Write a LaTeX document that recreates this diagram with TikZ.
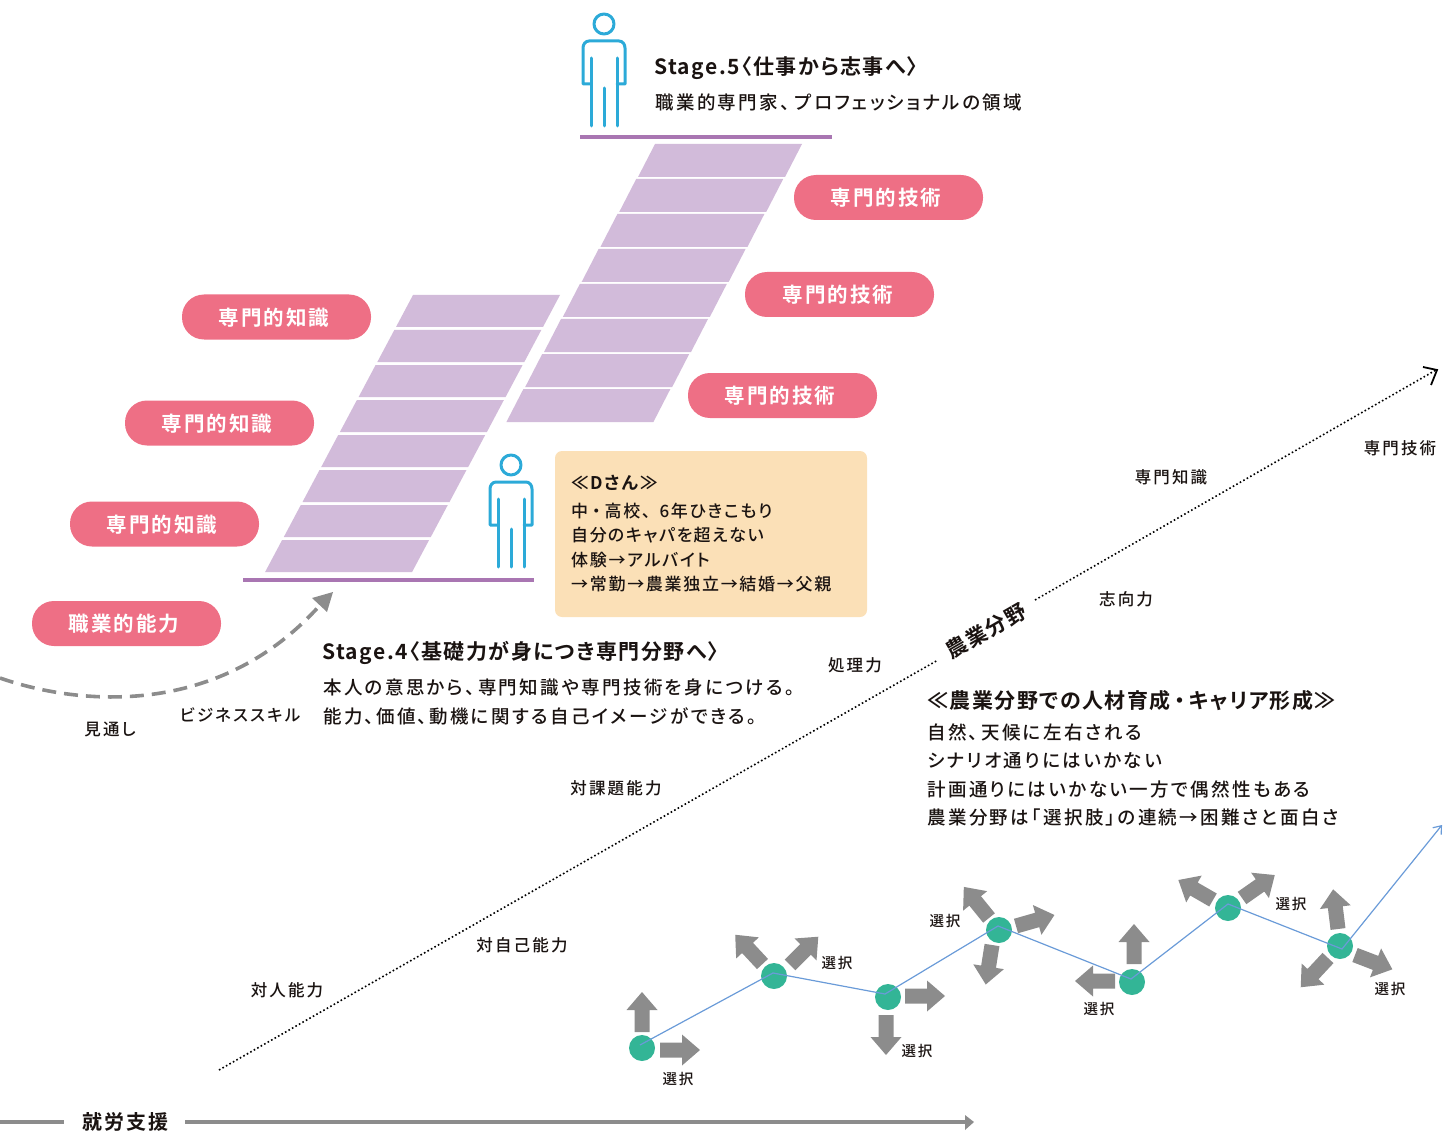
\documentclass[tikz,border=0pt]{standalone}
\usepackage{fontspec}
\usetikzlibrary{arrows.meta,calc}
\newfontfamily\jpr[RawFeature=+palt,LetterSpace=13]{Noto Sans CJK JP Medium}
\newfontfamily\jpbox[RawFeature=+palt,LetterSpace=10]{Noto Sans CJK JP Medium}
\newfontfamily\jpb[RawFeature=+palt,LetterSpace=7]{Noto Sans CJK JP Bold}
\newfontfamily\jpp[RawFeature=+palt,LetterSpace=10]{Noto Sans CJK JP Bold}
\newcommand{\fsz}[1]{\fontsize{#1}{#1}\selectfont}
\newcommand{\md}{\kern4pt・\kern4pt}
\definecolor{stair}{HTML}{D2BBDA}
\definecolor{floorc}{HTML}{A976B2}
\definecolor{pill}{HTML}{EE6F85}
\definecolor{boxc}{HTML}{FBE0B7}
\definecolor{person}{HTML}{2CAAD8}
\definecolor{greyc}{HTML}{8C8C8C}
\definecolor{greenc}{HTML}{33B596}
\definecolor{bluec}{HTML}{6A9BD8}
\definecolor{ink}{HTML}{1A1311}
\tikzset{
  pillbox/.style={fill=pill,text=white,rounded corners=22pt,minimum width=189pt,minimum height=45pt,inner sep=0pt},
  pilltext/.style={inner sep=0pt,text=white,font=\jpp\fsz{20.5}},
  body/.style={anchor=west,inner sep=0pt,text=ink,font=\jpr\fsz{18.5}},
  boxt/.style={anchor=west,inner sep=0pt,text=ink,font=\jpbox\fsz{17}},
  title/.style={anchor=west,inner sep=0pt,text=ink,font=\jpb\fsz{21}},
  lab/.style={inner sep=0pt,text=ink,font=\jpr\fsz{16.5}},
  sel/.style={inner sep=0pt,text=ink,font=\jpr\fsz{14.5}},
  dot/.style={circle,fill=greenc,minimum size=26pt,inner sep=0pt},
  floorline/.style={floorc,line width=3.5pt},
  glines/.style={greyc,line width=4pt},
  figline/.style={person,line width=3pt,line cap=round,line join=round},
  pics/blk/.style={code={\fill[greyc] (0,-7.5)--(22,-7.5)--(22,-15.5)--(40,0)--(22,15.5)--(22,7.5)--(0,7.5)--cycle;}},
  pics/figure/.style={code={
    \draw[figline] (0,-102) circle (10);
    \draw[figline] (-13,-42) -- (-21,-42) -- (-21,-78) to[out=90,in=180] (-15,-85) -- (15,-85) to[out=0,in=90] (21,-78) -- (21,-42) -- (13,-42);
    \draw[figline] (-13,-68) -- (-13,0) (0,-38) -- (0,0) (13,-68) -- (13,0);
  }}
}
\begin{document}
\begin{tikzpicture}[x=1pt,y=-1pt]
\useasboundingbox (0,0) rectangle (1450,1131);
% stairs
\foreach \i in {0,...,7}{
  \pgfmathsetmacro\dx{18.8*\i}
  \pgfmathsetmacro\dy{35*\i}
  \fill[stair] (655-\dx,144+\dy) -- (802-\dx,144+\dy) -- (785-\dx,177+\dy) -- (638-\dx,177+\dy) -- cycle;
  \pgfmathsetmacro\dxb{18.7*\i}
  \fill[stair] (413-\dxb,295+\dy) -- (560-\dxb,295+\dy) -- (543-\dxb,327+\dy) -- (396-\dxb,327+\dy) -- cycle;
}
% floors
\coordinate (f1a) at (580,137); \coordinate (f1b) at (832,137);
\coordinate (f2a) at (243,580); \coordinate (f2b) at (534,580);
\draw[floorline] (f1a) -- (f1b);
\draw[floorline] (f2a) -- (f2b);
% people
\pic at (604,126) {figure};
\pic at (511,567) {figure};
% pills
\node[pillbox] (p1) at (888.5,197.5) {};
\node[pillbox] (p2) at (839.5,294.5) {};
\node[pillbox] (p3) at (782.5,395.5) {};
\node[pillbox] (p4) at (276.5,317) {};
\node[pillbox] (p5) at (219.5,423) {};
\node[pillbox] (p6) at (164.5,524) {};
\node[pillbox] (p7) at (126.5,623.5) {};
\node[pilltext] (t1) at (886,197.5) {専門的技術};
\node[pilltext] (t2) at (838,294.5) {専門的技術};
\node[pilltext] (t3) at (780,396) {専門的技術};
\node[pilltext] (t4) at (274,317.5) {専門的知識};
\node[pilltext] (t5) at (217,423.5) {専門的知識};
\node[pilltext] (t6) at (162,524.5) {専門的知識};
\node[pilltext] (t7) at (124,624) {職業的能力};
% box
\fill[boxc,rounded corners=7pt] (555,451) rectangle (867,617);
\node[boxt,font=\jpp\fsz{17.5}] (d0) at (571,483) {≪Dさん≫};
\node[boxt] (d1) at (571,511.5) {中\md 高校、\kern9pt 6年ひきこもり};
\node[boxt] (d2) at (571,535.5) {自分\kern1pt のキャパを\kern1pt 超えない};
\node[boxt] (d3) at (571,560.5) {体験→アルバイト};
\node[boxt] (d4) at (571,584.5) {→常勤→農業独立→結婚→父親};
% stage texts
\node[title] (s5) at (654,68) {Stage.5〈仕事から志事へ〉};
\node[body] (s5b) at (655,102) {職業的専門家、\kern5pt プロフェッショナルの領域};
\node[title] (s4) at (322,653) {Stage.4〈基礎力が身につき専門分野へ〉};
\node[body] (s4a) at (323,687.5) {本人の意思から、\kern3pt 専門知識や専門技術を身につける。};
\node[body] (s4b) at (323,716.5) {能力、\kern2pt 価値、\kern2pt 動機に関する自己イメージができる。};
\node[title] (n0) at (927,701) {≪農業分野での人材育成\md キャリア形成≫};
\node[body] (n1) at (927,732.5) {自然、\kern3pt 天候に左右される};
\node[body] (n2) at (927,760.5) {シナリオ通りにはいかない};
\node[body] (n3) at (927,789.5) {計画通りにはいかない一方で偶然性もある};
\node[body] (n4) at (927,817.5) {農業分野は「選択肢」の連続→困難さと面白さ};
% dashed curve
\coordinate (c0) at (0,678); \coordinate (c1) at (333,592);
\draw[greyc,line width=3.6pt,dash pattern=on 14pt off 8pt] (c0) .. controls (80,706) and (220,718) .. (321,604);
\fill[greyc] (c1) -- (312,598) -- (327,612) -- cycle;
% labels
\node[lab] (l1) at (110,729) {見通し};
\node[lab] (l2) at (240,715) {ビジネススキル};
\node[lab] (l3) at (287,990) {対人能力};
\node[lab] (l4) at (522,945) {対自己能力};
\node[lab] (l5) at (616,788) {対課題能力};
\node[lab] (l6) at (855,665) {処理力};
\node[lab] (l7) at (1126,599) {志向力};
\node[lab] (l8) at (1171,477) {専門知識};
\node[lab] (l9) at (1400,448) {専門技術};
% main diagonal
\node[title,anchor=center,rotate=30] (agri) at (986,631) {農業分野};
\coordinate (ds) at (219,1070); \coordinate (de) at (1436,370);
\coordinate (dm1) at (938,660); \coordinate (dm2) at (1035,600);
\draw[black,line width=1.6pt,dash pattern=on 1.6pt off 2.4pt] (ds) -- (dm1);
\draw[black,line width=1.6pt,dash pattern=on 1.6pt off 2.4pt] (dm2) -- (de);
\draw[black,line width=1.8pt] (1423,367) -- (1437,370) -- (1431,385);
% bottom axis
\node[title,font=\jpp\fsz{20}] (work) at (82,1122) {就労支援};
\coordinate (b0) at (0,1122); \coordinate (b1) at (64,1122);
\coordinate (b2) at (185,1122); \coordinate (b3) at (967,1122);
\draw[glines] (b0) -- (b1);
\draw[glines] (b2) -- (b3);
\fill[greyc] (965,1115) -- (974,1122) -- (965,1130) -- cycle;
% block arrows
\pic[rotate=90] at (642,1032) {blk};
\pic at (660,1050) {blk};
\pic[rotate=133] at (762.5,964) {blk};
\pic[rotate=45] at (790,965) {blk};
\pic at (905,996) {blk};
\pic[rotate=270] at (886,1015) {blk};
\pic[rotate=129] at (989,918) {blk};
\pic[rotate=16] at (1016,926) {blk};
\pic[rotate=261] at (992,945) {blk};
\pic[rotate=90] at (1134,964) {blk};
\pic[rotate=180] at (1115,981) {blk};
\pic[rotate=150] at (1213,900) {blk};
\pic[rotate=35] at (1242,898) {blk};
\pic[rotate=97] at (1338,929) {blk};
\pic[rotate=-21] at (1355,955) {blk};
\pic[rotate=227] at (1328,958) {blk};
% dots
\node[dot] (g1) at (642,1048) {};
\node[dot] (g2) at (774,976) {};
\node[dot] (g3) at (888,997) {};
\node[dot] (g4) at (999,930) {};
\node[dot] (g5) at (1132,982) {};
\node[dot] (g6) at (1228,908) {};
\node[dot] (g7) at (1340,946) {};
\coordinate (v1) at (640,1045); \coordinate (v2) at (773,973); \coordinate (v3) at (885,994);
\coordinate (v4) at (998,926); \coordinate (v5) at (1131,979); \coordinate (v6) at (1228,904);
\coordinate (v7) at (1342,949); \coordinate (v8) at (1442,825);
\draw[bluec,line width=1.2pt,-{Straight Barb[length=7pt,width=11pt]}] (v1) -- (v2) -- (v3) -- (v4) -- (v5) -- (v6) -- (v7) -- (v8);
% select labels
\node[sel] (e1) at (678,1079) {選択};
\node[sel] (e2) at (837,962.5) {選択};
\node[sel] (e3) at (917,1051) {選択};
\node[sel] (e4) at (945,921) {選択};
\node[sel] (e5) at (1099,1009) {選択};
\node[sel] (e6) at (1291,904) {選択};
\node[sel] (e7) at (1390,989) {選択};
\end{tikzpicture}
\end{document}
